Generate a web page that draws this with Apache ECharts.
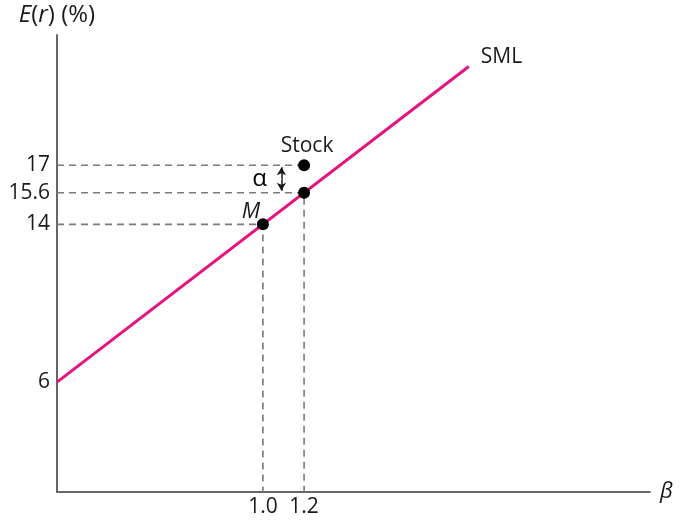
<!DOCTYPE html>
<html>
<head>
<meta charset="utf-8">
<script src="https://cdn.jsdelivr.net/npm/echarts@6/dist/echarts.min.js"></script>
<style>
  html, body { margin: 0; padding: 0; background: #fff; }
  #chart { width: 682px; height: 521px; }
</style>
</head>
<body>
<div id="chart"></div>
<script>
// SML: E(r) = rf + beta * (E(rM) - rf)
const smlBeta = [0, 2.0];
const smlReturn = [6, 22];
// market portfolio M
const marketPoint = [1.0, 14];
// stock: beta, actual expected return, fair return on SML
const stockBeta = 1.2;
const stockReturn = 17;
const stockFair = 15.6;
// tick labels
const yTicks = [6, 14, 15.6, 17];
const xTicks = [1.0, 1.2];

const yMin = 0.43, yMax = 23.6;
const xMin = 0, xMax = 2.88;

const font = "'Open Sans', 'Noto Sans', sans-serif";
const ink = "#1a1a1a";
const dashStyle = { color: "#7a7a7a", width: 1.6, type: [7, 5] };

const chart = echarts.init(document.getElementById("chart"));
const option = {
  animation: false,
  grid: { left: 57, right: 32, top: 35, bottom: 29 },
  xAxis: {
    type: "value",
    min: xMin,
    max: xMax,
    name: "β",
    nameLocation: "end",
    nameGap: 10,
    nameTextStyle: { fontFamily: font, fontSize: 22, fontStyle: "italic", color: ink, verticalAlign: "middle" },
    axisLine: { lineStyle: { color: "#666", width: 2 } },
    axisTick: { show: false },
    splitLine: { show: false },
    axisLabel: {
      customValues: xTicks,
      formatter: v => v.toFixed(1),
      fontFamily: font,
      fontSize: 21,
      color: ink,
      margin: 5
    }
  },
  yAxis: {
    type: "value",
    min: yMin,
    max: yMax,
    name: "{i|E}({i|r}) (%)",
    nameLocation: "end",
    nameGap: 8,
    nameTextStyle: {
      fontFamily: font, fontSize: 24, color: ink, align: "center",
      rich: { i: { fontFamily: font, fontSize: 24, fontStyle: "italic", color: ink } }
    },
    axisLine: { lineStyle: { color: "#666", width: 2 } },
    axisTick: { show: false },
    splitLine: { show: false },
    axisLabel: {
      customValues: yTicks,
      fontFamily: font,
      fontSize: 21,
      color: ink,
      margin: 7
    }
  },
  series: [
    // guide lines for M
    {
      type: "line", symbol: "none", silent: true, z: 1,
      lineStyle: dashStyle,
      data: [[xMin, marketPoint[1]], marketPoint, [marketPoint[0], yMin]]
    },
    // guide lines for the stock
    {
      type: "line", symbol: "none", silent: true, z: 1,
      lineStyle: dashStyle,
      data: [[xMin, stockReturn], [stockBeta, stockReturn]]
    },
    {
      type: "line", symbol: "none", silent: true, z: 1,
      lineStyle: dashStyle,
      data: [[xMin, stockFair], [stockBeta, stockFair], [stockBeta, yMin]]
    },
    // SML
    {
      type: "line", symbol: "none", z: 3,
      lineStyle: { color: "#e5137f", width: 3 },
      data: smlBeta.map((b, i) => [b, smlReturn[i]]),
      endLabel: {
        show: true, formatter: "SML",
        fontFamily: font, fontSize: 21, color: ink,
        distance: 12, offset: [0, -10]
      },
      markLine: {
        silent: true,
        symbol: ["arrow", "arrow"],
        symbolSize: [7, 8],
        label: { show: false },
        lineStyle: { color: ink, width: 1.5, type: "solid" },
        data: [[{ coord: [1.09, stockReturn - 0.1] }, { coord: [1.09, stockFair + 0.1] }]]
      }
    },
    // points
    {
      type: "scatter", symbolSize: 12, z: 5,
      itemStyle: { color: "#000", opacity: 1 },
      data: [
        { value: marketPoint, label: { show: true, formatter: "M", position: "top", distance: 0, offset: [-12, 4], fontStyle: "italic", fontFamily: font, fontSize: 22, color: ink } },
        { value: [stockBeta, stockReturn], label: { show: true, formatter: "Stock", position: "top", distance: 3, offset: [3, 0], fontFamily: font, fontSize: 21, color: ink } },
        { value: [stockBeta, stockFair] }
      ]
    },
    // alpha label
    {
      type: "scatter", symbolSize: 1, z: 5, silent: true,
      itemStyle: { color: "#fff", opacity: 1 },
      data: [[1.09, (stockReturn + stockFair) / 2]],
      label: {
        show: true, formatter: "α", position: "left", distance: 14,
        fontFamily: font, fontSize: 24, color: "#000"
      }
    }
  ]
};
chart.setOption(option);
</script>
</body>
</html>
